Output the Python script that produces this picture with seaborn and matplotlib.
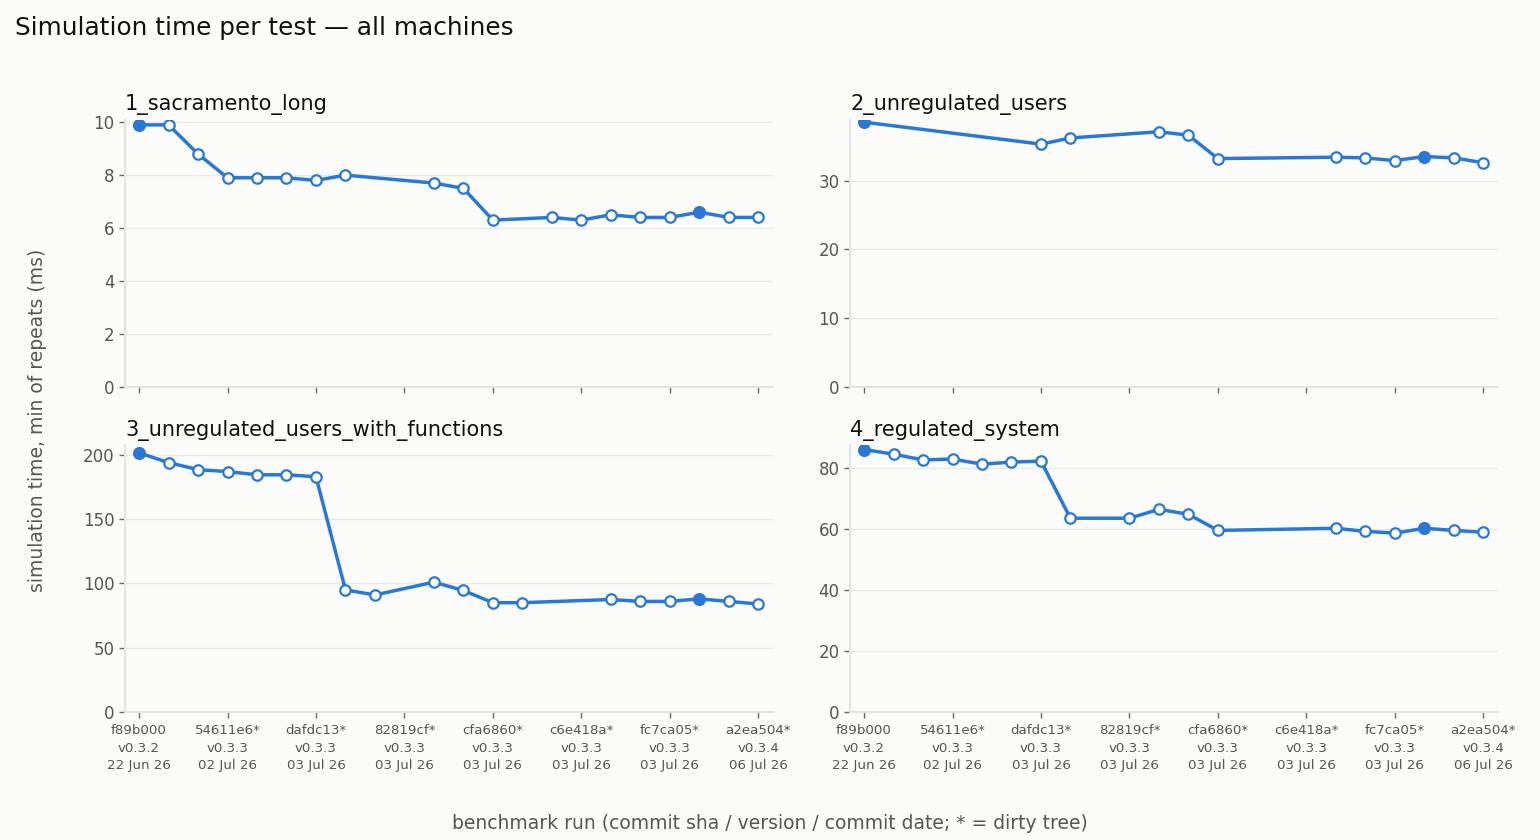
import numpy as np
import pandas as pd
import matplotlib
matplotlib.use("Agg")
import matplotlib.pyplot as plt
from matplotlib.ticker import MultipleLocator
import seaborn as sns

# benchmark runs are indexed 0..21, only every third one gets a label
tick_pos = [0, 3, 6, 9, 12, 15, 18, 21]
tick_labels = [
    "f89b000\nv0.3.2\n22 Jun 26",
    "54611e6*\nv0.3.3\n02 Jul 26",
    "dafdc13*\nv0.3.3\n03 Jul 26",
    "82819cf*\nv0.3.3\n03 Jul 26",
    "cfa6860*\nv0.3.3\n03 Jul 26",
    "c6e418a*\nv0.3.3\n03 Jul 26",
    "fc7ca05*\nv0.3.3\n03 Jul 26",
    "a2ea504*\nv0.3.4\n06 Jul 26",
]
clean_runs = [0, 19]  # runs without a dirty tree (filled markers)

tests = ["1_sacramento_long", "2_unregulated_users",
         "3_unregulated_users_with_functions", "4_regulated_system"]
y_steps = [2, 10, 50, 20]

run_1 = [0, 1, 2, 3, 4, 5, 6, 7, 10, 11, 12, 14, 15, 16, 17, 18, 19, 20, 21]
time_1 = [9.9, 9.9, 8.8, 7.9, 7.9, 7.9, 7.8, 8.0, 7.7, 7.5, 6.3, 6.4, 6.3, 6.5, 6.4, 6.4, 6.6, 6.4, 6.4]

run_2 = [0, 6, 7, 10, 11, 12, 16, 17, 18, 19, 20, 21]
time_2 = [38.5, 35.3, 36.2, 37.1, 36.6, 33.2, 33.4, 33.3, 32.9, 33.5, 33.3, 32.6]

run_3 = [0, 1, 2, 3, 4, 5, 6, 7, 8, 10, 11, 12, 13, 16, 17, 18, 19, 20, 21]
time_3 = [201.5, 194, 188.5, 187, 184.5, 184.5, 183, 95, 91, 101, 94.5, 85, 85, 87.5, 86, 86, 88, 86, 84]

run_4 = [0, 1, 2, 3, 4, 5, 6, 7, 9, 10, 11, 12, 16, 17, 18, 19, 20, 21]
time_4 = [86, 84.5, 82.6, 82.9, 81.2, 81.9, 82.2, 63.5, 63.5, 66.4, 64.8, 59.5, 60.2, 59.2, 58.6, 60.2, 59.5, 58.9]

runs = [run_1, run_2, run_3, run_4]
times = [time_1, time_2, time_3, time_4]

df = pd.concat([pd.DataFrame({"test": t, "run": r, "time": v})
                for t, r, v in zip(tests, runs, times)], ignore_index=True)
df["clean"] = df["run"].isin(clean_runs)

bg = "#fbfbf9"
blue = "#2a78d6"
sns.set_theme(style="whitegrid", rc={
    "figure.facecolor": bg, "axes.facecolor": bg,
    "grid.color": "#e8e8e6", "axes.edgecolor": "#e3e3e1",
    "xtick.color": "#555555", "ytick.color": "#555555",
    "xtick.bottom": True, "ytick.left": True,
})
plt.rcParams["font.family"] = ["DejaVu Sans"]

fig, axes = plt.subplots(2, 2, figsize=(15.4, 8.4), dpi=100)
fig.subplots_adjust(left=0.0812, right=0.9727, top=0.857, bottom=0.1524,
                    hspace=0.22, wspace=0.119)

for ax, t, step in zip(axes.flat, tests, y_steps):
    d = df[df["test"] == t]
    sns.lineplot(data=d, x="run", y="time", ax=ax, color=blue, lw=2.5,
                 marker="o", markersize=7.5, markerfacecolor="white",
                 markeredgecolor=blue, markeredgewidth=1.6)
    sns.scatterplot(data=d[d["clean"]], x="run", y="time", ax=ax, color=blue,
                    s=60, edgecolor=blue, linewidth=1.5, zorder=5)
    ax.set_ylim(bottom=0)
    ax.set_xlim(-0.475, 21.5)
    ax.yaxis.set_major_locator(MultipleLocator(step))
    ax.set_xticks(tick_pos)
    ax.grid(axis="x", visible=False)
    ax.set_title(t, loc="left", fontsize=15, color="#111111", pad=7)
    ax.set_xlabel("")
    ax.set_ylabel("")
    ax.tick_params(axis="y", labelsize=12, length=4, width=1, color="#666666")
    ax.tick_params(axis="x", labelsize=9.6, length=4, width=1, color="#666666", pad=5)
    for s in ["top", "right"]:
        ax.spines[s].set_visible(False)
    for s in ["left", "bottom"]:
        ax.spines[s].set_linewidth(1.5)

for ax in axes[0]:
    ax.set_xticklabels([])
for ax in axes[1]:
    ax.set_xticklabels(tick_labels, linespacing=1.42)

fig.suptitle("Simulation time per test — all machines", x=0.0097, y=0.981,
             ha="left", fontsize=17.8, color="#111111")
fig.supylabel("simulation time, min of repeats (ms)", x=0.018, y=0.5,
              fontsize=13.5, color="#555555")
fig.supxlabel("benchmark run (commit sha / version / commit date; * = dirty tree)",
              x=0.5, y=0.008, fontsize=13.5, color="#555555")

fig.savefig("out.png", dpi=100, facecolor=bg)
